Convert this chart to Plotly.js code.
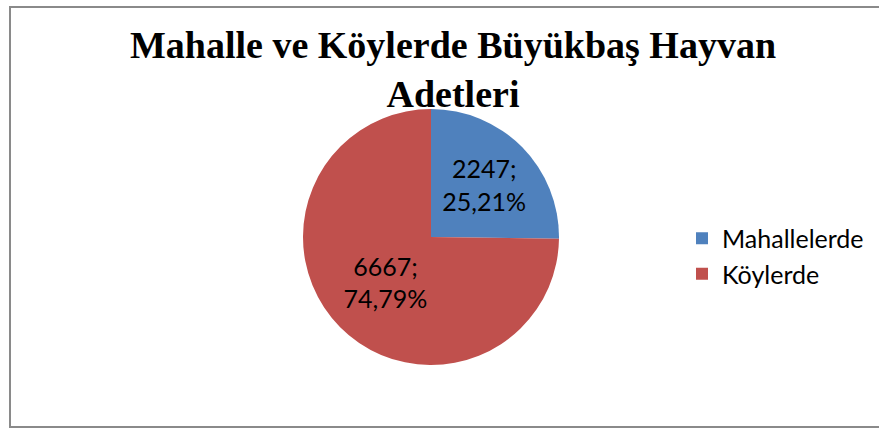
<!DOCTYPE html>
<html>
<head>
<meta charset="utf-8">
<script src="https://cdn.plot.ly/plotly-3.0.1.min.js"></script>
<style>
html,body{margin:0;padding:0;background:#fff;}
#chart{width:879px;height:430px;}
</style>
</head>
<body>
<div id="chart"></div>
<script>
const categories = ["Mahallelerde", "Köylerde"];
const values = [2247, 6667];
const percentLabels = ["25,21%", "74,79%"];
const colors = ["#4F81BD", "#C0504D"];

const labelText = values.map((v, i) => v + ";<br>" + percentLabels[i]);

const trace = {
  type: "pie",
  labels: categories,
  values: values,
  text: labelText,
  textinfo: "text",
  textposition: "inside",
  insidetextorientation: "horizontal",
  hoverinfo: "label+value+percent",
  sort: false,
  direction: "clockwise",
  rotation: 0,
  marker: {colors: colors, line: {width: 0}},
  textfont: {family: "Lato, 'Open Sans', sans-serif", size: 25, color: "#000"},
  domain: {x: [303/879, 559/879], y: [1 - 365/430, 1 - 109/430]}
};

const layout = {
  width: 879,
  height: 430,
  margin: {l: 0, r: 0, t: 0, b: 0},
  paper_bgcolor: "#fff",
  showlegend: true,
  title: {
    text: "<b>Mahalle ve Köylerde Büyükbaş Hayvan<br>Adetleri</b>",
    font: {family: "'Liberation Serif', 'Times New Roman', serif", size: 38, color: "#000"},
    x: 453/879,
    xanchor: "center",
    y: 1 - 58/430,
    yanchor: "top"
  },
  legend: {
    x: 682/879,
    xanchor: "left",
    y: 1 - 256/430,
    yanchor: "middle",
    font: {family: "Lato, 'Open Sans', sans-serif", size: 25, color: "#000"},
    itemsizing: "constant",
    tracegroupgap: 0
  },
  shapes: [{
    type: "rect", xref: "paper", yref: "paper",
    x0: 10/879, x1: 1.01, y0: 1 - 427/430, y1: 1 - 7/430,
    line: {color: "#8a8a8a", width: 2}
  }]
};

Plotly.newPlot("chart", [trace], layout, {displayModeBar: false, staticPlot: true});
</script>
</body>
</html>
